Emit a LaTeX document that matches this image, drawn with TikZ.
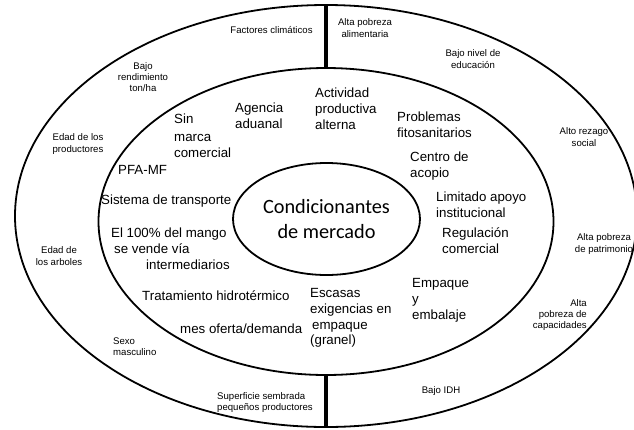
\documentclass[tikz,border=0pt]{standalone}
\usepackage{fontspec}
\setmainfont{Liberation Sans}
\newfontfamily\calib{Carlito}
\usetikzlibrary{shapes.geometric}
\tikzset{
  ring/.style={draw, ellipse, line width=1.8pt, inner sep=0pt},
  divider/.style={line width=3.6pt},
  factor/.style={font=\fontsize{13.3}{15.8}\selectfont, align=left, anchor=west, inner sep=0pt},
  minor/.style={font=\fontsize{9.6}{11.2}\selectfont, align=center, inner sep=0pt},
}
\begin{document}
\begin{tikzpicture}[x=1pt, y=-1pt]
\useasboundingbox (0,0) rectangle (634,429);

% three nested rings
\node[ring, minimum width=622pt, minimum height=422pt] (outer) at (326,216) {};
\node[ring, minimum width=455pt, minimum height=307pt] (middle) at (326,221.5) {};
\node[ring, minimum width=187pt, minimum height=112pt,
      font=\calib\fontsize{20.3}{25.5}\selectfont, align=center] (core) at (326.5,219)
      {Condicionantes\\de mercado};

% dividers across the outer ring
\draw[divider] (outer.north) -- (middle.north);
\draw[divider] (middle.south) -- (outer.south);

% market factors (middle ring)
\node[factor] (marca) at (174,136) {Sin\\[1.5pt]marca\\[1pt]comercial};
\node[factor] (aduana) at (235,115.5) {Agencia\\aduanal};
\node[factor] (actividad) at (315,109) {Actividad\\productiva\\alterna};
\node[factor] (fito) at (397,124.5) {Problemas\\fitosanitarios};
\node[factor] (acopio) at (410,166) {Centro de\\acopio};
\node[factor] (apoyo) at (436,205) {Limitado apoyo\\institucional};
\node[factor] (regulacion) at (442,241) {Regulación\\comercial};
\node[factor] (empaque) at (412,300.5) {Empaque\\y\\embalaje};
\node[factor] (granel) at (310,318) {Escasas\\exigencias en\\\hspace*{2pt}empaque\\(granel)};
\node[factor] (oferta) at (180,329) {mes oferta/demanda};
\node[factor] (hidro) at (142,296) {Tratamiento hidrotérmico};
\node[factor] (mango) at (111,249) {El 100\% del mango\\\hspace*{3pt}se vende vía\\\hspace*{35pt}intermediarios};
\node[factor] (transporte) at (101,201.5) {Sistema de transporte};
\node[factor] (pfa) at (118,170) {PFA-MF};

% producer and social factors (outer ring)
\node[minor] (clima) at (271.5,30) {Factores climáticos};
\node[minor] (alimentaria) at (365,28) {Alta pobreza\\alimentaria};
\node[minor] (rendimiento) at (143,77) {Bajo\\rendimiento\\ton/ha};
\node[minor] (educacion) at (473,59) {Bajo nivel de\\educación};
\node[minor] (edadprod) at (78,144) {Edad de los\\productores};
\node[minor] (rezago) at (584,137) {Alto rezago\\social};
\node[minor] (arboles) at (59,256) {Edad de\\los arboles};
\node[minor] (patrimonio) at (604,244) {Alta pobreza\\de patrimonio};
\node[minor, align=left, anchor=west] (sexo) at (113,347) {Sexo\\masculino};
\node[minor, align=right, anchor=east] (capacidades) at (587,315) {Alta\\pobreza de\\capacidades};
\node[minor, align=left, anchor=west] (superficie) at (217,402.5) {Superficie sembrada\\pequeños productores};
\node[minor] (idh) at (441,391) {Bajo IDH};
\end{tikzpicture}
\end{document}
